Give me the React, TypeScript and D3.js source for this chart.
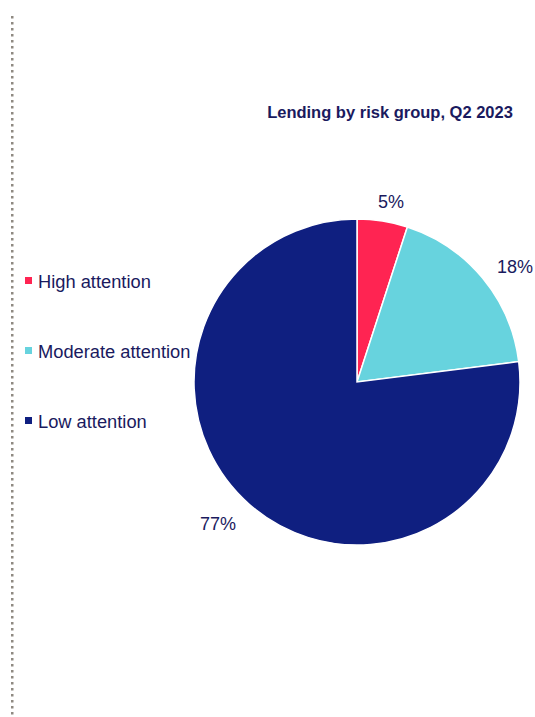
import React from "react";
import * as d3 from "d3";

const categories = ["High attention", "Moderate attention", "Low attention"];
const values = [5, 18, 77];
const labels = ["5%", "18%", "77%"];
const colors = ["#FF2452", "#67D3DE", "#0F1F80"];
const title = "Lending by risk group, Q2 2023";

export default function App() {
  const W = 535, H = 717;
  const cx = 357, cy = 382, r = 163;
  const pie = d3.pie<number>().sort(null).value((d) => d)(values);
  const arc = d3.arc<d3.PieArcDatum<number>>().innerRadius(0).outerRadius(r);
  const labelPos = [
    [391, 208],
    [515, 273],
    [218, 530],
  ];
  const dots = d3.range(16, H, 6);
  return (
    <svg width={W} height={H} style={{ position: "absolute", left: 0, top: 0 }}
      fontFamily="'Liberation Sans', Arial, sans-serif">
      <rect width={W} height={H} fill="#fff" />
      {dots.map((y, i) => (
        <rect key={i} x={11} y={y} width={2.5} height={2.5} fill="#8f8a82" />
      ))}
      <text x={390} y={118} textAnchor="middle" fontSize={16.5} fontWeight="bold" fill="#1a1a5e">
        {title}
      </text>
      <g transform={`translate(${cx},${cy})`}>
        {pie.map((p, i) => (
          <path key={i} d={arc(p) || ""} fill={colors[i]} stroke="#fff" strokeWidth={1.5} />
        ))}
      </g>
      {labels.map((l, i) => (
        <text key={i} x={labelPos[i][0]} y={labelPos[i][1]} textAnchor="middle" fontSize={18} fill="#1a1a5e">
          {l}
        </text>
      ))}
      {categories.map((c, i) => (
        <g key={i} transform={`translate(0,${281 + i * 70})`}>
          <rect x={25} y={-4} width={7} height={7} fill={colors[i]} />
          <text x={38} y={6.5} fontSize={18.3} fill="#1a1a5e">{c}</text>
        </g>
      ))}
    </svg>
  );
}
